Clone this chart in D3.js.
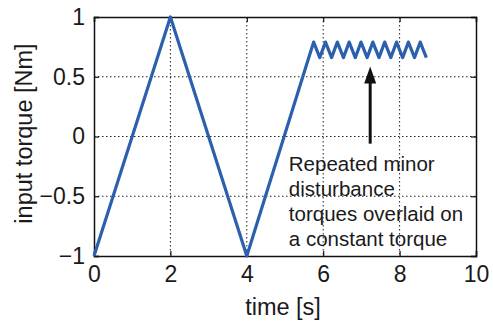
<!DOCTYPE html>
<html>
<head>
<meta charset="utf-8">
<script src="https://cdn.jsdelivr.net/npm/d3@7"></script>
<style>
  body { margin: 0; background: #fff; }
  text { font-family: "Liberation Sans", Arial, sans-serif; fill: #1a1a1a; }
</style>
</head>
<body>
<div id="chart"></div>
<script>
// input torque profile (time [s], torque [Nm])
var timeValues = [0, 2, 4, 5.75, 5.91, 6.06, 6.22, 6.37, 6.53, 6.68, 6.84, 6.99, 7.15,
  7.30, 7.46, 7.61, 7.77, 7.92, 8.08, 8.23, 8.39, 8.54, 8.70];
var torqueValues = [-1, 1, -1, 0.79, 0.66, 0.79, 0.66, 0.79, 0.66, 0.79, 0.66, 0.79, 0.66,
  0.79, 0.66, 0.79, 0.66, 0.79, 0.66, 0.79, 0.66, 0.79, 0.66];

var xTicks = [0, 2, 4, 6, 8, 10];
var yTicks = [-1, -0.5, 0, 0.5, 1];
var yTickLabels = ["\u22121", "\u22120.5", "0", "0.5", "1"];

var noteLines = ["Repeated minor", "disturbance", "torques overlaid on", "a constant torque"];

var svgWidth = 493;
var svgHeight = 322;

var margin = {
  top: 17,
  right: 17,
  bottom: 66,
  left: 94
};

var width = svgWidth - margin.left - margin.right;
var height = svgHeight - margin.top - margin.bottom;

var svg = d3.select("#chart")
  .append("svg").attr("width", svgWidth).attr("height", svgHeight);

var chartGroup = svg.append("g")
  .attr("transform", `translate(${margin.left}, ${margin.top})`);

var xScale = d3.scaleLinear().domain([0, 10]).range([0, width]);
var yScale = d3.scaleLinear().domain([-1, 1]).range([height, 0]);

// dotted grid
chartGroup.append("g").selectAll("line")
  .data(xTicks.slice(1, -1))
  .enter().append("line")
  .attr("x1", d => xScale(d)).attr("x2", d => xScale(d))
  .attr("y1", 0).attr("y2", height)
  .attr("stroke", "#222").attr("stroke-width", 1)
  .attr("stroke-dasharray", "1.5,2.5");

chartGroup.append("g").selectAll("line")
  .data(yTicks.slice(1, -1))
  .enter().append("line")
  .attr("y1", d => yScale(d)).attr("y2", d => yScale(d))
  .attr("x1", 0).attr("x2", width)
  .attr("stroke", "#222").attr("stroke-width", 1)
  .attr("stroke-dasharray", "1.5,2.5");

// axes with inward ticks on all four sides
var bottomAxis = d3.axisBottom(xScale).tickValues(xTicks).tickSize(-5).tickPadding(10);
var leftAxis = d3.axisLeft(yScale).tickValues(yTicks).tickSize(-5).tickPadding(9)
  .tickFormat((d, i) => yTickLabels[i]);

var xAxis = chartGroup.append("g")
  .attr("transform", `translate(0, ${height})`)
  .call(bottomAxis);

var yAxis = chartGroup.append("g").call(leftAxis);

chartGroup.append("g")
  .call(d3.axisTop(xScale).tickValues(xTicks).tickSize(-5).tickFormat(""));
chartGroup.append("g")
  .attr("transform", `translate(${width}, 0)`)
  .call(d3.axisRight(yScale).tickValues(yTicks).tickSize(-5).tickFormat(""));

chartGroup.selectAll(".domain").attr("stroke", "#111").attr("stroke-width", 1.5);
chartGroup.selectAll(".tick line").attr("stroke", "#111").attr("stroke-width", 1.2);
chartGroup.selectAll(".tick text")
  .style("font-size", "23px")
  .style("font-family", "'Liberation Sans', Arial, sans-serif")
  .attr("fill", "#1a1a1a");

// torque line
var points = timeValues.map((t, i) => [t, torqueValues[i]]);
var line = d3.line().x(d => xScale(d[0])).y(d => yScale(d[1]));

chartGroup.append("path")
  .datum(points)
  .attr("d", line)
  .attr("fill", "none")
  .attr("stroke", "#2c5fae")
  .attr("stroke-width", 3.2)
  .attr("stroke-linejoin", "round");

// annotation arrow
var arrowX = xScale(7.23);
var arrowTip = yScale(0.585);
chartGroup.append("line")
  .attr("x1", arrowX).attr("x2", arrowX)
  .attr("y1", yScale(-0.06)).attr("y2", arrowTip + 14)
  .attr("stroke", "#111").attr("stroke-width", 3);
chartGroup.append("path")
  .attr("d", `M${arrowX},${arrowTip} L${arrowX - 6},${arrowTip + 17} L${arrowX + 6},${arrowTip + 17} Z`)
  .attr("fill", "#111");

var note = chartGroup.append("text")
  .attr("x", xScale(5.1))
  .attr("y", yScale(-0.285))
  .style("font-size", "20.5px");
note.selectAll("tspan")
  .data(noteLines)
  .enter().append("tspan")
  .attr("x", xScale(5.1))
  .attr("dy", (d, i) => i === 0 ? 0 : 25)
  .text(d => d);

// axis labels
chartGroup.append("text")
  .attr("x", width / 2 - 2)
  .attr("y", height + 59)
  .attr("text-anchor", "middle")
  .style("font-size", "23.5px")
  .text("time [s]");

chartGroup.append("text")
  .attr("transform", "rotate(-90)")
  .attr("x", 0 - height / 2 + 3)
  .attr("y", 0 - margin.left + 32)
  .attr("text-anchor", "middle")
  .style("font-size", "23.5px")
  .text("input torque [Nm]");
</script>
</body>
</html>
